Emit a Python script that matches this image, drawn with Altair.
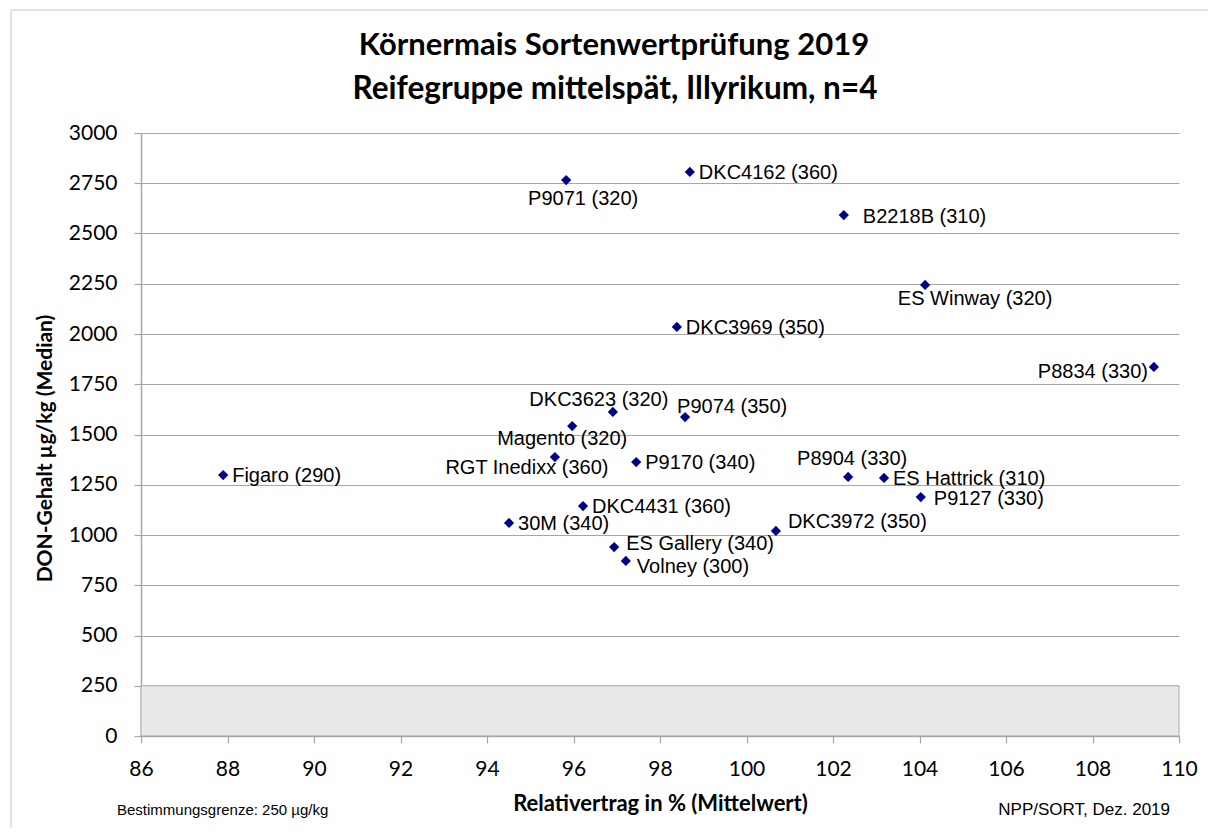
import altair as alt
import pandas as pd

# ---------------- data ----------------
names = ["Figaro", "P9071", "DKC4162", "B2218B", "ES Winway", "DKC3969", "P8834",
         "DKC3623", "P9074", "Magento", "RGT Inedixx", "P9170", "DKC4431", "30M",
         "ES Gallery", "Volney", "DKC3972", "P8904", "ES Hattrick", "P9127"]
reifezahl = [290, 320, 360, 310, 320, 350, 330,
             320, 350, 320, 360, 340, 360, 340,
             340, 300, 350, 330, 310, 330]
relativertrag = [87.9, 95.83, 98.69, 102.25, 104.13, 98.39, 109.42,
                 96.91, 98.58, 95.97, 95.57, 97.45, 96.22, 94.51,
                 96.94, 97.21, 100.68, 102.35, 103.18, 104.03]
don_median = [1298, 2766, 2806, 2592, 2244, 2035, 1836,
              1612, 1587, 1542, 1388, 1363, 1144, 1060,
              940, 871, 1020, 1289, 1284, 1189]
label_pos = ["right", "below", "right", "right_far", "below_right", "right", "left",
             "above_left", "above_right", "below_left", "below_left_far", "right", "right", "right",
             "right_up", "right_down", "right_high", "above", "right", "right_gap"]

x_ticks = [86, 88, 90, 92, 94, 96, 98, 100, 102, 104, 106, 108, 110]
y_ticks = [0, 250, 500, 750, 1000, 1250, 1500, 1750, 2000, 2250, 2500, 2750, 3000]
limit_band = [0, 250]  # Bestimmungsgrenze

title_lines = ["Körnermais Sortenwertprüfung 2019", "Reifegruppe mittelspät, Illyrikum, n=4"]
x_title = "Relativertrag in % (Mittelwert)"
y_title = "DON-Gehalt µg/kg (Median)"
note_left = "Bestimmungsgrenze: 250 µg/kg"
note_right = "NPP/SORT, Dez. 2019"

# ---------------- styles ----------------
PLACEMENT = {
    "right":          dict(align="left",   dx=9,   dy=1),
    "right_gap":      dict(align="left",   dx=13,  dy=2),
    "right_far":      dict(align="left",   dx=19,  dy=2),
    "right_up":       dict(align="left",   dx=12,  dy=-3),
    "right_high":     dict(align="left",   dx=12,  dy=-9),
    "right_down":     dict(align="left",   dx=11,  dy=6),
    "left":           dict(align="right",  dx=-6,  dy=5),
    "below":          dict(align="center", dx=17,  dy=19),
    "below_right":    dict(align="center", dx=50,  dy=14),
    "below_left":     dict(align="center", dx=-10, dy=13),
    "below_left_far": dict(align="center", dx=-28, dy=11),
    "above_left":     dict(align="center", dx=-14, dy=-12),
    "above_right":    dict(align="left",   dx=-8,  dy=-10),
    "above":          dict(align="center", dx=4,   dy=-18),
}

W, H = 1038, 603
GRID = "#a6a6a6"
POINT = "#00008b"

df = pd.DataFrame({
    "name": names,
    "reife": reifezahl,
    "ertrag": relativertrag,
    "don": don_median,
    "pos": label_pos,
})
df["label"] = [f"{n} ({r})" for n, r in zip(names, reifezahl)]

x_enc = alt.X(
    "ertrag:Q",
    scale=alt.Scale(domain=[x_ticks[0], x_ticks[-1]], nice=False, zero=False),
    axis=alt.Axis(
        values=x_ticks, format="d", grid=False,
        labelFont="Lato", labelFontSize=21, labelColor="black", labelPadding=15,
        labelFlush=False, labelOverlap=False,
        tickSize=7, tickColor=GRID, tickWidth=1.2,
        domainColor=GRID, domainWidth=1.5,
        title=x_title, titleFont="Lato", titleFontSize=22, titleFontWeight="bold",
        titleColor="black", titleX=W / 2, titleY=67, titleBaseline="middle",
        titleAlign="center",
    ),
)
y_enc = alt.Y(
    "don:Q",
    scale=alt.Scale(domain=[y_ticks[0], y_ticks[-1]], nice=False),
    axis=alt.Axis(
        values=y_ticks, format="d", grid=True, gridColor=GRID, gridWidth=1.2,
        labelFont="Lato", labelFontSize=21, labelColor="black", labelPadding=17,
        labelFlush=False, labelOverlap=False,
        tickSize=7, tickColor=GRID, tickWidth=1.2,
        domainColor=GRID, domainWidth=1.5,
        title=y_title, titleFont="Lato", titleFontSize=21, titleFontWeight="bold",
        titleColor="black", titleX=-96, titleY=315, titleAngle=270,
        titleAlign="center", titleBaseline="middle",
    ),
)

band = alt.Chart(pd.DataFrame({"y0": [limit_band[0]], "y1": [limit_band[1]]})).mark_rect(
    fill="#e9e9e9", stroke=GRID, strokeWidth=1
).encode(
    x=alt.value(0), x2=alt.value(W),
    y=alt.Y("y0:Q", scale=alt.Scale(domain=[y_ticks[0], y_ticks[-1]], nice=False)),
    y2="y1:Q",
)

base = alt.Chart(df)
points = base.mark_point(shape="diamond", filled=True, size=105, color=POINT, opacity=1).encode(
    x=x_enc, y=y_enc
)

labels = []
for p in dict.fromkeys(label_pos):
    st = PLACEMENT[p]
    labels.append(
        base.transform_filter(alt.datum.pos == p).mark_text(
            font="Liberation Sans", fontSize=20, color="black", baseline="middle",
            align=st["align"], dx=st["dx"], dy=st["dy"],
        ).encode(x="ertrag:Q", y="don:Q", text="label:N")
    )

one = pd.DataFrame({"t": [note_left], "u": [note_right],
                    "t1": [title_lines[0]], "t2": [title_lines[1]]})
note_l = alt.Chart(one).mark_text(
    font="Liberation Sans", fontSize=15, color="black", align="left", baseline="alphabetic"
).encode(x=alt.value(-24), y=alt.value(682), text="t:N")
note_r = alt.Chart(one).mark_text(
    font="Liberation Sans", fontSize=17, color="black", align="right", baseline="alphabetic"
).encode(x=alt.value(1029), y=alt.value(682), text="u:N")

title_1 = alt.Chart(one).mark_text(
    font="Lato", fontSize=31, fontWeight="bold", color="black", align="center", baseline="alphabetic"
).encode(x=alt.value(473), y=alt.value(-78), text="t1:N")
title_2 = alt.Chart(one).mark_text(
    font="Lato", fontSize=31.5, fontWeight="bold", color="black", align="center", baseline="alphabetic"
).encode(x=alt.value(474), y=alt.value(-34), text="t2:N")

frame_top = alt.Chart(one).mark_rule(color="#d9d9d9", strokeWidth=1.5).encode(
    x=alt.value(-130), x2=alt.value(1070), y=alt.value(-123)
)
frame_left = alt.Chart(one).mark_rule(color="#d9d9d9", strokeWidth=1.5).encode(
    x=alt.value(-130), y=alt.value(-123), y2=alt.value(700)
)

chart = alt.layer(
    frame_top, frame_left, band, points, *labels, note_l, note_r, title_1, title_2
).properties(
    width=W, height=H,
    autosize=alt.AutoSizeParams(type="none"),
    padding={"left": 133, "top": 125, "right": 29, "bottom": 92},
).configure_view(strokeWidth=0)

chart.save("out.html", embed_options={"renderer": "svg", "actions": False})
